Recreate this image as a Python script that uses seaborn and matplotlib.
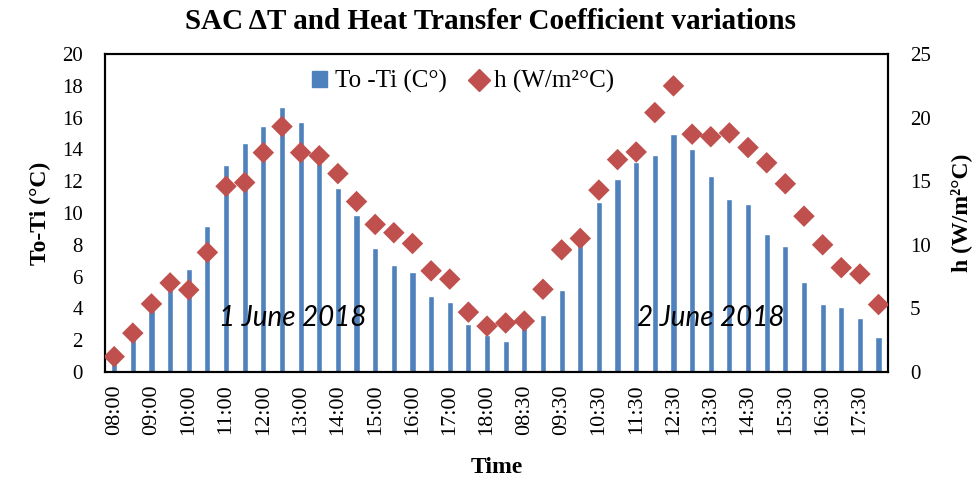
import numpy as np
import pandas as pd
import seaborn as sns
import matplotlib.pyplot as plt
from matplotlib.patches import Patch
from matplotlib.lines import Line2D

# half-hourly readings, two days
day1_times = ["08:00", "08:30", "09:00", "09:30", "10:00", "10:30", "11:00",
              "11:30", "12:00", "12:30", "13:00", "13:30", "14:00", "14:30",
              "15:00", "15:30", "16:00", "16:30", "17:00", "17:30", "18:00"]
day2_times = list(day1_times)

# To - Ti (C)
dT_day1 = [1.0, 2.2, 3.9, 5.4, 6.45, 9.2, 13.0, 14.4, 15.5, 16.7, 15.7,
           13.3, 11.6, 9.9, 7.8, 6.7, 6.3, 4.8, 4.4, 3.0, 2.3]
dT_day2 = [1.95, 2.8, 3.55, 5.15, 8.05, 10.7, 12.15, 13.2, 13.65, 15.0, 14.05,
           12.35, 10.85, 10.55, 8.7, 7.9, 5.65, 4.3, 4.1, 3.4, 2.2]

# h (W/m2 C)
h_day1 = [1.2, 3.05, 5.35, 7.0, 6.45, 9.4, 14.6, 14.9, 17.25, 19.3, 17.25,
          17.0, 15.6, 13.4, 11.6, 10.95, 10.1, 7.95, 7.3, 4.7, 3.6]
h_day2 = [3.85, 4.0, 6.5, 9.6, 10.5, 14.3, 16.7, 17.3, 20.4, 22.5, 18.7,
          18.5, 18.8, 17.65, 16.45, 14.8, 12.25, 10.0, 8.2, 7.7, 5.3]

times = day1_times + day2_times
df = pd.DataFrame({
    "pos": np.arange(len(times)),
    "time": times,
    "dT": dT_day1 + dT_day2,
    "h": h_day1 + h_day2,
})

bar_col = "#4F81BD"
pt_col = "#C0504D"

sns.set_style("white")
plt.rcParams["font.family"] = ["Liberation Serif", "DejaVu Serif"]
plt.rcParams.update({"text.color": "black", "axes.labelcolor": "black",
                     "xtick.color": "black", "ytick.color": "black"})

fig = plt.figure(figsize=(9.8, 4.83), dpi=100)
ax = fig.add_axes([0.107, 0.230, 0.799, 0.658])

sns.barplot(data=df, x="pos", y="dT", color=bar_col, width=0.33,
            saturation=1, ax=ax)
ax.set_ylim(0, 20)
ax.set_yticks(np.arange(0, 21, 2))
ax.set_xlim(-0.5, len(times) - 0.5)
ax.set_xticks(df["pos"][::2])
ax.set_xticklabels(df["time"][::2], rotation=90)
ax.tick_params(axis="y", length=0, labelsize=15, pad=16)
ax.tick_params(axis="x", length=0, labelsize=16, pad=9)
ax.set_xlabel("Time", fontsize=17, fontweight="bold", labelpad=16)
ax.set_ylabel("To-Ti (°C)", fontsize=17, fontweight="bold", labelpad=8)

ax2 = ax.twinx()
sns.scatterplot(data=df, x="pos", y="h", marker="D", s=120, color=pt_col,
                edgecolor="none", ax=ax2, zorder=3)
ax2.set_ylim(0, 25)
ax2.set_yticks(np.arange(0, 26, 5))
ax2.tick_params(axis="y", length=0, labelsize=15, pad=16)
ax2.set_ylabel("h (W/m²°C)", fontsize=17, fontweight="bold", labelpad=14)
ax2.set_xlim(-0.5, len(times) - 0.5)

for a in (ax, ax2):
    for s in a.spines.values():
        s.set_color("black")
        s.set_linewidth(1.5)

ax.text(9.6, 3.4, "1 June 2018", fontsize=20, style="italic",
        family="Lato", ha="center", va="center")
ax.text(32.0, 3.4, "2 June 2018", fontsize=20, style="italic",
        family="Lato", ha="center", va="center")

handles = [Patch(color=bar_col, label="To -Ti (C°)"),
           Line2D([], [], marker="D", color=pt_col, linestyle="none",
                  markersize=11, label="h (W/m²°C)")]
ax2.legend(handles=handles, loc="upper center", bbox_to_anchor=(0.458, 1.02),
           ncol=2, frameon=False, fontsize=18, handlelength=0.6,
           handleheight=0.6, columnspacing=1.0, handletextpad=0.3)

fig.text(0.5, 0.955, "SAC ΔT and Heat Transfer Coefficient variations",
         fontsize=21, fontweight="bold", ha="center", va="center")

fig.savefig("out.png", dpi=100)
